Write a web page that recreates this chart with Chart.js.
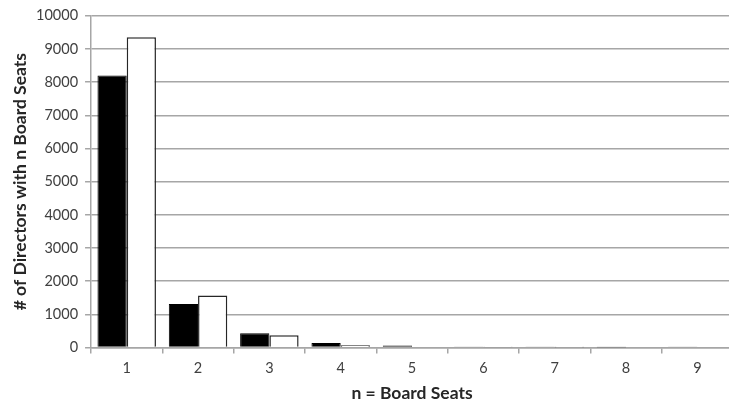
<!DOCTYPE html>
<html>
<head>
<meta charset="utf-8">
<script src="https://cdn.jsdelivr.net/npm/chart.js@4"></script>
<style>
  html, body { margin: 0; padding: 0; background: #fff; overflow: hidden; }
  #wrap { position: absolute; left: 0; top: 0; width: 745px; height: 405px; }
</style>
</head>
<body>
<div id="wrap"><canvas id="c" width="745" height="405"></canvas></div>
<script>
const categories = ['1', '2', '3', '4', '5', '6', '7', '8', '9'];
const seriesBlack = [8200, 1310, 430, 140, 60, 30, 20, 5, 15];
const seriesWhite = [9350, 1570, 370, 70, 25, 10, 5, 0, 0];
const yTicks = [0, 1000, 2000, 3000, 4000, 5000, 6000, 7000, 8000, 9000, 10000];

const gridColor = '#a6a6a6';
const textColor = '#404040';
const FONT = 'Lato, "Open Sans", sans-serif';

new Chart(document.getElementById('c'), {
  type: 'bar',
  data: {
    labels: categories,
    datasets: [
      { label: 'A', data: seriesBlack, backgroundColor: '#000000', borderColor: '#000000', borderWidth: 1, categoryPercentage: 0.82, barPercentage: 1.0 },
      { label: 'B', data: seriesWhite, backgroundColor: '#ffffff', borderColor: '#262626', borderWidth: 1.5, categoryPercentage: 0.82, barPercentage: 1.0 }
    ]
  },
  options: {
    responsive: false,
    animation: false,
    layout: { padding: { top: 2, right: 12, left: 11.5, bottom: 1 } },
    plugins: { legend: { display: false }, tooltip: { enabled: false } },
    scales: {
      x: {
        grid: { offset: true, drawOnChartArea: false, drawTicks: true, tickLength: 6, color: gridColor, lineWidth: 1.5 },
        border: { display: true, color: gridColor, width: 1.5 },
        ticks: { color: textColor, font: { family: FONT, size: 14.5 }, padding: 6 },
        title: { display: true, text: 'n = Board Seats', color: '#262626', font: { family: FONT, size: 17.5, weight: 'bold' }, padding: { top: 0, bottom: 0 } }
      },
      y: {
        min: 0, max: 10000,
        afterBuildTicks: (axis) => { axis.ticks = yTicks.map(v => ({ value: v })); },
        grid: { color: gridColor, lineWidth: 1.5, drawTicks: true, tickLength: 6 },
        border: { display: true, color: gridColor, width: 1.5 },
        ticks: { color: textColor, font: { family: FONT, size: 14.5 }, padding: 7, callback: (v) => String(v) },
        title: { display: true, text: '# of Directors with n Board Seats', color: '#262626', font: { family: FONT, size: 17.5, weight: 'bold', lineHeight: 1.0 }, padding: { top: 0, bottom: 0 } }
      }
    }
  }
});
</script>
</body>
</html>
